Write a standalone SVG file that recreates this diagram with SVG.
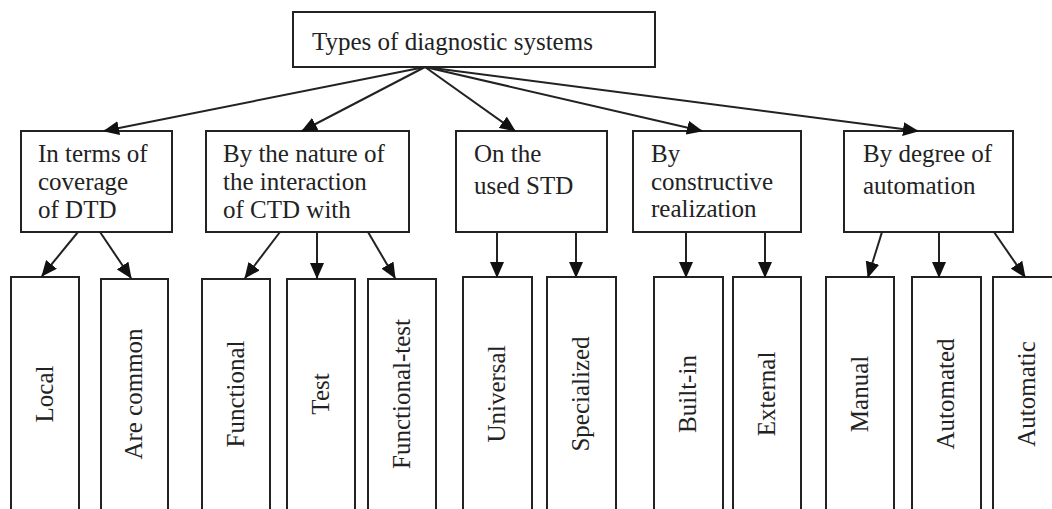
<svg xmlns="http://www.w3.org/2000/svg" width="1052" height="509" viewBox="0 0 1052 509">
<style>
.n{fill:#fff;stroke:#222;stroke-width:2}
.bg{fill:#fff;stroke:none}
text{font-family:"Liberation Serif","Times New Roman",serif;font-size:25px;fill:#222}
.v{text-anchor:middle}
#connectors line{stroke:#222;stroke-width:2;marker-end:url(#ah)}
</style>
<defs>
<marker id="ah" markerUnits="userSpaceOnUse" markerWidth="16" markerHeight="14" viewBox="0 0 16 14" refX="15" refY="7" orient="auto">
<path d="M0,0 L16,7 L0,14 Z" fill="#111"/>
</marker>
</defs>
<rect class="bg" width="1052" height="509"/>
<g id="root"><rect class="n" x="293" y="12" width="362" height="55"/><text x="312" y="50">Types of diagnostic systems</text></g>
<g id="c1"><rect class="n" x="21" y="131" width="151" height="101"/><text x="38" y="162">In terms of</text><text x="38" y="190">coverage</text><text x="38" y="218">of DTD</text></g>
<g id="c2"><rect class="n" x="206" y="131" width="203" height="101"/><text x="223" y="162">By the nature of</text><text x="223" y="190">the interaction</text><text x="223" y="218">of CTD with</text></g>
<g id="c3"><rect class="n" x="456" y="131" width="151" height="101"/><text x="474" y="162">On the</text><text x="474" y="194">used STD</text></g>
<g id="c4"><rect class="n" x="633" y="131" width="168" height="101"/><text x="651" y="162">By</text><text x="651" y="190">constructive</text><text x="651" y="217">realization</text></g>
<g id="c5"><rect class="n" x="844" y="131" width="169" height="101"/><text x="863" y="162">By degree of</text><text x="863" y="194">automation</text></g>
<g id="l1"><rect class="n" x="11" y="277" width="68" height="245"/><text class="v" transform="translate(53,394) rotate(-90)">Local</text></g>
<g id="l2"><rect class="n" x="101" y="279" width="67" height="245"/><text class="v" transform="translate(142,394) rotate(-90)">Are common</text></g>
<g id="l3"><rect class="n" x="202" y="279" width="68" height="245"/><text class="v" transform="translate(244,394) rotate(-90)">Functional</text></g>
<g id="l4"><rect class="n" x="287" y="279" width="68" height="245"/><text class="v" transform="translate(329,394) rotate(-90)">Test</text></g>
<g id="l5"><rect class="n" x="368" y="279" width="68" height="245"/><text class="v" transform="translate(410,394) rotate(-90)">Functional-test</text></g>
<g id="l6"><rect class="n" x="463" y="277" width="69" height="245"/><text class="v" transform="translate(505,394) rotate(-90)">Universal</text></g>
<g id="l7"><rect class="n" x="547" y="277" width="69" height="245"/><text class="v" transform="translate(589,394) rotate(-90)">Specialized</text></g>
<g id="l8"><rect class="n" x="654" y="277" width="69" height="245"/><text class="v" transform="translate(696,394) rotate(-90)">Built-in</text></g>
<g id="l9"><rect class="n" x="733" y="277" width="68" height="245"/><text class="v" transform="translate(775,394) rotate(-90)">External</text></g>
<g id="l10"><rect class="n" x="826" y="277" width="68" height="245"/><text class="v" transform="translate(868,394) rotate(-90)">Manual</text></g>
<g id="l11"><rect class="n" x="912" y="277" width="69" height="245"/><text class="v" transform="translate(954,394) rotate(-90)">Automated</text></g>
<g id="l12"><rect class="n" x="993" y="277" width="69" height="245"/><text class="v" transform="translate(1035,394) rotate(-90)">Automatic</text></g>
<g id="connectors">
<line x1="425" y1="67" x2="104" y2="131"/>
<line x1="425" y1="67" x2="302" y2="131"/>
<line x1="425" y1="67" x2="515" y2="131"/>
<line x1="425" y1="67" x2="702" y2="131"/>
<line x1="425" y1="67" x2="918" y2="131"/>
<line x1="78" y1="232" x2="42" y2="276"/>
<line x1="100" y1="232" x2="131" y2="278"/>
<line x1="280" y1="232" x2="245" y2="278"/>
<line x1="317" y1="232" x2="317" y2="278"/>
<line x1="368" y1="232" x2="395" y2="278"/>
<line x1="497" y1="232" x2="497" y2="277"/>
<line x1="576" y1="232" x2="576" y2="277"/>
<line x1="686" y1="232" x2="686" y2="277"/>
<line x1="765" y1="232" x2="765" y2="277"/>
<line x1="882" y1="232" x2="868" y2="277"/>
<line x1="939" y1="232" x2="939" y2="277"/>
<line x1="994" y1="232" x2="1025" y2="277"/>
</g>
</svg>
